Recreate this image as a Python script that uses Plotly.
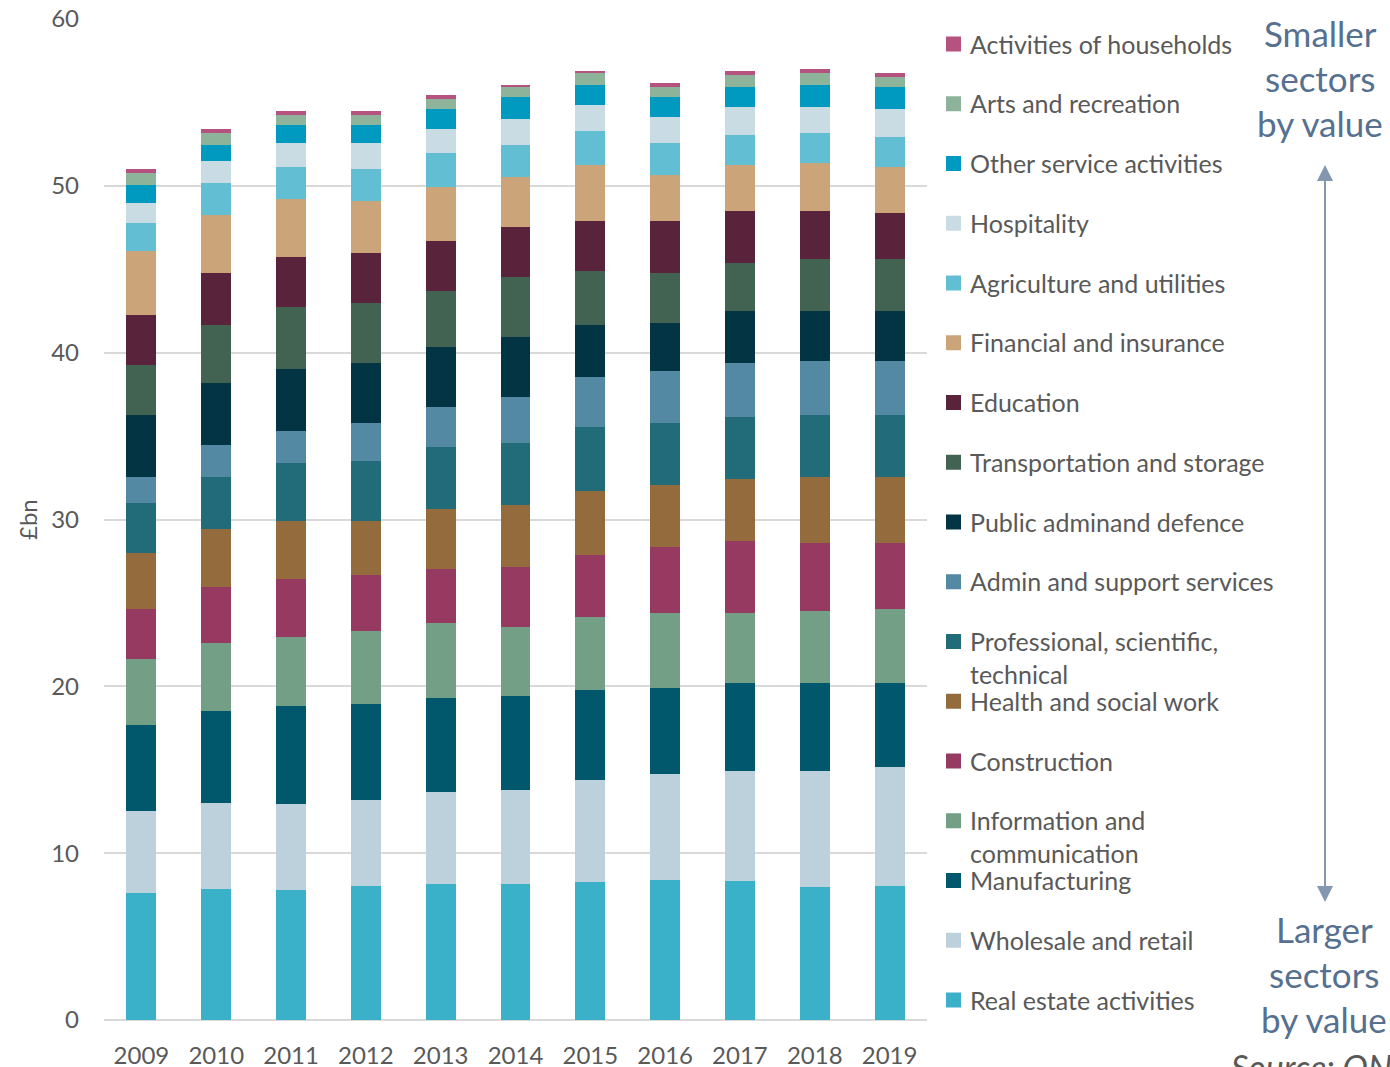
import plotly.graph_objects as go

# Gross value added by sector, £bn, 2009-2019
years = ["2009", "2010", "2011", "2012", "2013", "2014", "2015", "2016", "2017", "2018", "2019"]

real_estate = [7.61, 7.85, 7.78, 8.02, 8.14, 8.14, 8.26, 8.38, 8.31, 7.96, 8.06]
wholesale = [4.92, 5.16, 5.15, 5.15, 5.51, 5.64, 6.12, 6.36, 6.59, 6.94, 7.10]
manufacturing = [5.16, 5.52, 5.91, 5.79, 5.67, 5.66, 5.42, 5.18, 5.29, 5.29, 5.03]
information = [3.95, 4.07, 4.09, 4.33, 4.46, 4.09, 4.34, 4.46, 4.20, 4.33, 4.44]
construction = [3.00, 3.36, 3.50, 3.38, 3.25, 3.62, 3.73, 3.97, 4.32, 4.07, 3.96]
health = [3.36, 3.48, 3.49, 3.25, 3.61, 3.73, 3.85, 3.73, 3.72, 3.96, 3.96]
professional = [3.00, 3.11, 3.47, 3.59, 3.71, 3.71, 3.83, 3.71, 3.72, 3.72, 3.72]
admin_support = [1.55, 1.92, 1.92, 2.28, 2.40, 2.76, 2.99, 3.11, 3.24, 3.24, 3.24]
public_admin = [3.72, 3.72, 3.71, 3.59, 3.59, 3.59, 3.12, 2.88, 3.11, 2.99, 2.99]
transport = [3.00, 3.48, 3.71, 3.59, 3.35, 3.59, 3.23, 2.99, 2.88, 3.12, 3.12]
education = [3.00, 3.11, 3.00, 3.00, 3.00, 2.99, 2.99, 3.11, 3.12, 2.88, 2.76]
financial = [3.83, 3.48, 3.47, 3.11, 3.23, 3.00, 3.36, 2.76, 2.74, 2.88, 2.76]
agriculture = [1.68, 1.92, 1.92, 1.92, 2.04, 1.91, 2.03, 1.91, 1.82, 1.80, 1.80]
hospitality = [1.20, 1.32, 1.43, 1.55, 1.43, 1.56, 1.56, 1.56, 1.68, 1.56, 1.68]
other_services = [1.08, 0.96, 1.08, 1.08, 1.20, 1.32, 1.20, 1.20, 1.20, 1.32, 1.32]
arts = [0.72, 0.72, 0.60, 0.60, 0.60, 0.60, 0.72, 0.60, 0.71, 0.71, 0.59]
households = [0.24, 0.24, 0.24, 0.24, 0.24, 0.12, 0.12, 0.24, 0.24, 0.24, 0.24]

# Stacking order: bottom (largest) to top (smallest)
sector_names = [
    "Real estate activities",
    "Wholesale and retail",
    "Manufacturing",
    "Information and\ncommunication",
    "Construction",
    "Health and social work",
    "Professional, scientific,\ntechnical",
    "Admin and support services",
    "Public adminand defence",
    "Transportation and storage",
    "Education",
    "Financial and insurance",
    "Agriculture and utilities",
    "Hospitality",
    "Other service activities",
    "Arts and recreation",
    "Activities of households",
]
sector_values = [
    real_estate, wholesale, manufacturing, information, construction, health,
    professional, admin_support, public_admin, transport, education, financial,
    agriculture, hospitality, other_services, arts, households,
]
sector_colors = [
    "#3AB0C9", "#BCD1DC", "#01586D", "#729F86", "#963A61", "#936B3C",
    "#226C7A", "#5389A2", "#023444", "#426352", "#59243B", "#CCA47A",
    "#62BFD3", "#CADCE3", "#0099C0", "#8DB39B", "#B5527F",
]

W, H = 1390, 1067
L, R, T, B = 104, 463, 19, 47
PW = W - L - R
PH = H - T - B
BOTTOM_PX = H - B


def px_x(px):
    return (px - L) / PW


def px_y(py):
    return (BOTTOM_PX - py) / PH


GREY = "#595959"
FONT = "Lato"

fig = go.Figure()
for name, vals, col in zip(sector_names, sector_values, sector_colors):
    fig.add_trace(go.Bar(
        x=years, y=vals, name=name.replace("\n", " "),
        marker=dict(color=col, line=dict(width=0)),
        showlegend=False,
    ))

annotations = []
shapes = []

# Key, listed top-down from the smallest sector
legend_top = 44
legend_step = 59.75
for i, (name, col) in enumerate(zip(sector_names[::-1], sector_colors[::-1])):
    cy = legend_top + i * legend_step
    shapes.append(dict(
        type="rect", xref="paper", yref="paper",
        x0=px_x(946), x1=px_x(961), y0=px_y(cy + 7.5), y1=px_y(cy - 7.5),
        fillcolor=col, line=dict(width=0),
    ))
    for j, line in enumerate(name.split("\n")):
        annotations.append(dict(
            text=line, xref="paper", yref="paper",
            x=px_x(968), y=px_y(cy - 0.5 + j * 33), xanchor="left", yanchor="middle",
            showarrow=False, font=dict(family=FONT, size=25, color=GREY),
        ))

SIDE = "#56708F"
for j, line in enumerate(["Smaller", "sectors", "by value"]):
    annotations.append(dict(
        text=line, xref="paper", yref="paper",
        x=px_x(1320), y=px_y(33 + j * 45), xanchor="center", yanchor="middle",
        showarrow=False, font=dict(family=FONT, size=35, color=SIDE),
    ))
for j, line in enumerate(["Larger", "sectors", "by value"]):
    annotations.append(dict(
        text=line, xref="paper", yref="paper",
        x=px_x(1324), y=px_y(929 + j * 45), xanchor="center", yanchor="middle",
        showarrow=False, font=dict(family=FONT, size=35, color=SIDE),
    ))

# Double-headed arrow between the two captions
ARROW = "#8497B0"
ARROW_TOP, ARROW_BOTTOM = 165, 902
annotations.append(dict(
    text="", xref="paper", yref="paper", x=px_x(1325), y=px_y(ARROW_TOP),
    ax=0, ay=ARROW_BOTTOM - ARROW_TOP - 10, showarrow=True, arrowhead=2,
    arrowsize=1.6, arrowwidth=2, arrowcolor=ARROW,
))
annotations.append(dict(
    text="", xref="paper", yref="paper", x=px_x(1325), y=px_y(ARROW_BOTTOM),
    ax=0, ay=-(ARROW_BOTTOM - ARROW_TOP - 10), showarrow=True, arrowhead=2,
    arrowsize=1.6, arrowwidth=2, arrowcolor=ARROW,
))

annotations.append(dict(
    text="<i>Source: ONS</i>", xref="paper", yref="paper",
    x=px_x(1229), y=px_y(1066), xanchor="left", yanchor="middle",
    showarrow=False, font=dict(family=FONT, size=34, color=GREY),
))

annotations.append(dict(
    text="£bn", xref="paper", yref="paper",
    x=px_x(27), y=px_y(520), xanchor="center", yanchor="middle",
    textangle=-90, showarrow=False, font=dict(family=FONT, size=24, color=GREY),
))

fig.update_layout(
    barmode="stack",
    bargap=0.6,
    width=W, height=H,
    margin=dict(l=L, r=R, t=T, b=B, pad=0),
    plot_bgcolor="white", paper_bgcolor="white",
    font=dict(family=FONT, size=24, color=GREY),
    annotations=annotations,
    shapes=shapes,
)
fig.update_xaxes(
    type="category", showgrid=False, showline=False, zeroline=False,
    ticks="", tickfont=dict(family=FONT, size=24, color=GREY),
    ticklabelstandoff=19, automargin=False,
)
fig.update_yaxes(
    range=[0, 60], tickvals=[0, 10, 20, 30, 40, 50, 60],
    showgrid=True, gridcolor="#D9D9D9", gridwidth=2,
    zeroline=True, zerolinecolor="#D9D9D9", zerolinewidth=2,
    showline=False, ticks="", tickfont=dict(family=FONT, size=24, color=GREY),
    ticklabelstandoff=24, automargin=False,
)

fig.write_html("out.html")
